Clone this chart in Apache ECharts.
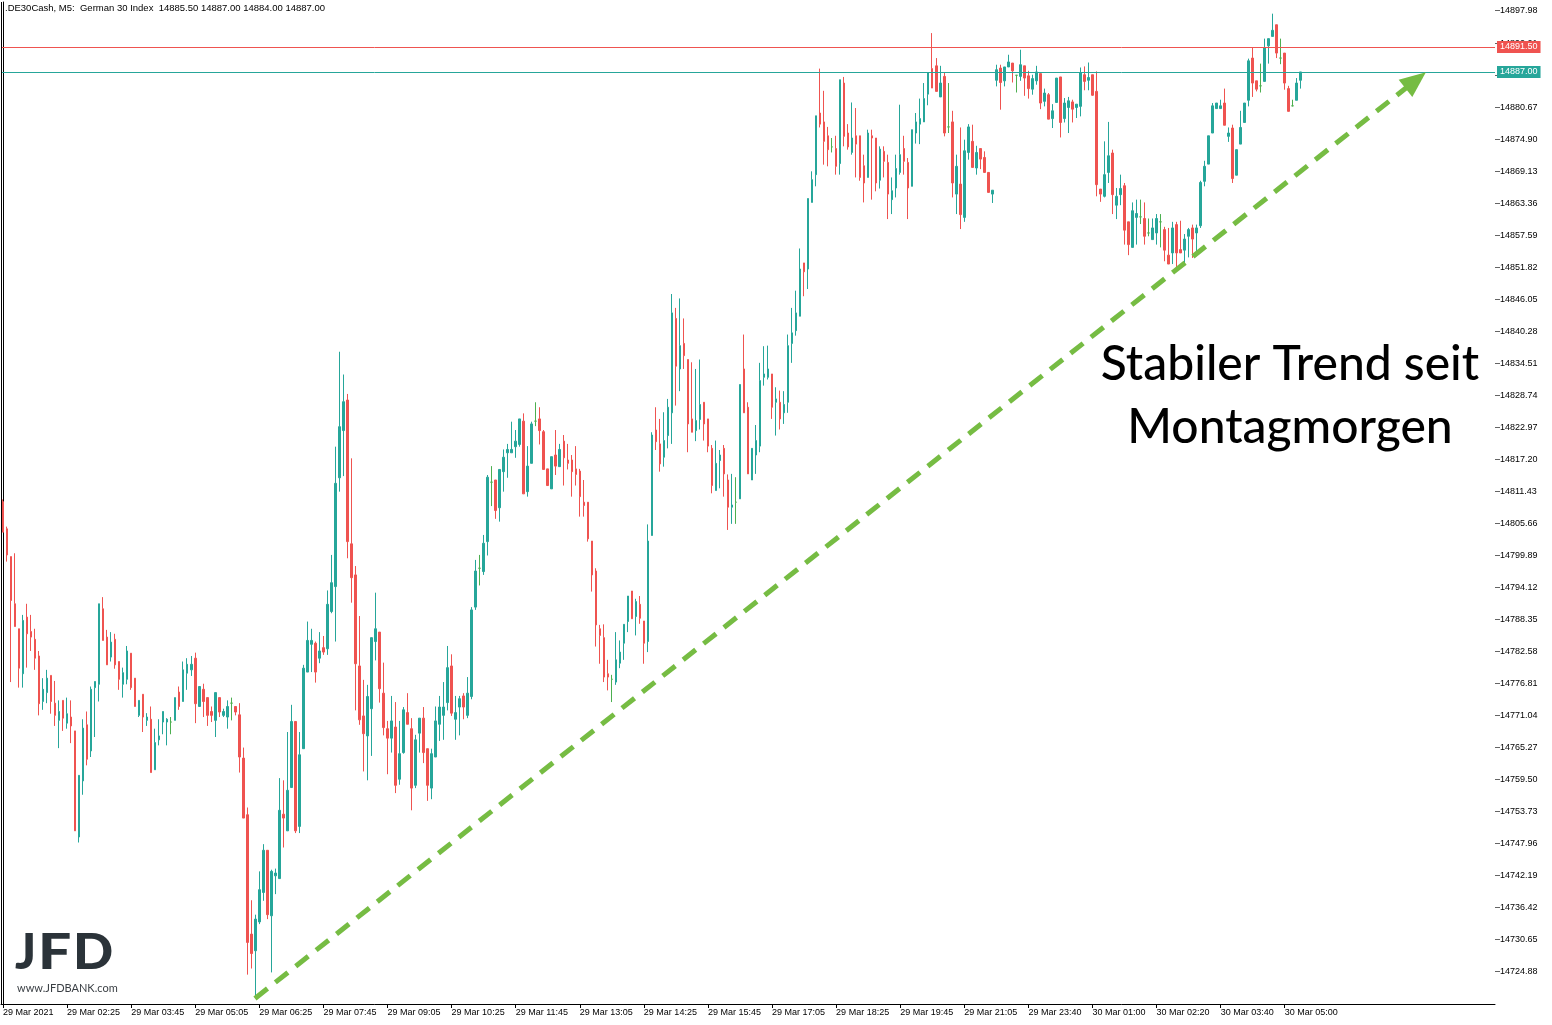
<!DOCTYPE html>
<html><head><meta charset="utf-8">
<script src="https://cdn.jsdelivr.net/npm/echarts@6/dist/echarts.min.js"></script>
<style>html,body{margin:0;padding:0;background:#fff}#c{width:1552px;height:1025px}</style>
</head><body><div id="c"></div><script>
const open = [
14809.6,14804.7,14799.7,14791.2,14786.7,14778.6,14788.8,14786.2,14784.8,14781.8,
14773.6,14775.2,14778.3,14773.3,14770.2,14773.8,14769.7,14770.8,14768.3,14749.2,
14759.3,14769.4,14764.7,14776.1,14776.7,14790.3,14785.2,14781.6,14784.8,14780.8,
14776.7,14777.6,14782.3,14777.8,14771.1,14774.9,14770.2,14770.4,14761.3,14766.7,
14769.9,14769.9,14769.9,14770.2,14775.3,14773.6,14778.7,14779.3,14781.4,14772.7,
14775.8,14774.3,14771.8,14770.2,14774.3,14771.1,14770.8,14773.3,14772.7,14771.2,
14763.4,14753.2,14731.7,14728.7,14733.9,14739.2,14746.8,14735.0,14742.2,14741.7,
14753.3,14750.3,14758.1,14770.0,14751.1,14765.1,14778.9,14783.9,14784.1,14781.4,
14783.3,14783.1,14789.8,14794.3,14813.9,14822.4,14827.9,14802.0,14796.4,14780.0,
14771.0,14767.4,14772.3,14784.4,14786.1,14775.1,14768.7,14767.0,14769.0,14759.6,
14764.4,14771.6,14768.7,14758.5,14767.9,14770.6,14765.1,14758.0,14763.6,14769.5,
14771.1,14773.4,14780.0,14770.4,14772.6,14774.6,14771.1,14774.5,14790.6,14797.6,
14797.0,14802.4,14813.1,14813.5,14808.5,14815.0,14818.4,14818.4,14819.5,14819.9,
14824.1,14811.4,14816.5,14824.1,14824.5,14822.2,14815.5,14811.9,14818.0,14815.9,
14820.5,14817.1,14817.1,14815.5,14815.1,14809.5,14809.5,14802.5,14797.1,14786.7,
14785.1,14778.6,14777.6,14777.1,14780.5,14784.1,14788.0,14793.5,14788.9,14791.1,
14788.1,14784.4,14803.5,14822.5,14820.0,14817.6,14821.5,14825.6,14842.6,14833.5,
14838.1,14835.2,14824.5,14822.4,14824.4,14827.5,14824.5,14819.2,14811.6,14817.0,
14819.2,14813.5,14808.6,14809.5,14810.1,14833.5,14826.6,14813.5,14818.0,14819.6,
14832.0,14832.0,14832.6,14827.5,14827.5,14825.6,14827.5,14838.1,14840.4,14843.0,
14852.6,14851.5,14863.5,14868.5,14879.6,14878.0,14875.5,14873.5,14873.2,14870.5,
14885.0,14876.0,14872.5,14875.5,14875.5,14870.1,14868.0,14875.5,14875.1,14867.5,
14872.7,14870.7,14864.0,14866.1,14868.9,14873.2,14870.7,14866.4,14876.0,14877.6,
14878.0,14883.0,14887.6,14888.1,14882.5,14886.2,14877.1,14878.0,14865.0,14866.8,
14860.8,14872.5,14874.5,14869.7,14873.2,14871.6,14868.9,14865.0,14885.5,14887.7,
14885.4,14887.9,14888.6,14886.4,14886.2,14888.1,14886.3,14883.9,14885.4,14886.7,
14881.7,14882.9,14878.6,14881.5,14886.1,14878.6,14880.6,14881.6,14880.6,14880.8,
14886.5,14885.5,14886.5,14883.5,14865.9,14864.6,14868.9,14872.4,14863.0,14864.9,
14866.5,14860.0,14855.4,14860.8,14860.9,14860.6,14858.0,14856.8,14858.0,14860.0,
14858.6,14854.0,14854.4,14859.5,14855.0,14854.9,14857.4,14858.9,14858.0,14859.3,
14867.3,14870.4,14876.0,14880.4,14880.4,14881.4,14875.4,14876.9,14868.4,14874.0,
14877.9,14881.9,14889.5,14885.4,14884.5,14885.3,14891.7,14893.4,14895.5,14889.5,
14890.4,14884.0,14880.9,14881.9,14885.5];
const high = [
14810.0,14805.1,14799.7,14800.3,14786.7,14789.2,14791.2,14789.2,14786.7,14782.7,
14777.8,14779.3,14778.3,14777.3,14773.8,14773.8,14774.3,14773.8,14768.3,14760.3,
14770.4,14771.8,14776.3,14777.2,14791.2,14792.4,14786.5,14786.1,14785.8,14780.8,
14779.7,14783.6,14782.3,14777.8,14773.8,14774.9,14771.5,14772.7,14768.7,14770.4,
14771.8,14770.6,14770.8,14774.3,14776.3,14780.8,14781.4,14781.8,14782.4,14776.3,
14776.8,14774.3,14772.7,14775.2,14774.3,14772.3,14773.8,14774.3,14772.7,14773.3,
14765.3,14754.5,14737.8,14735.2,14743.0,14747.9,14746.8,14743.3,14743.5,14759.8,
14759.4,14768.1,14773.0,14770.0,14768.1,14780.2,14788.0,14786.7,14784.4,14786.1,
14785.4,14793.6,14800.0,14819.5,14836.6,14832.5,14829.0,14817.4,14798.0,14789.0,
14777.5,14776.6,14785.1,14793.2,14786.1,14780.6,14770.1,14774.6,14773.5,14770.1,
14772.6,14775.1,14770.6,14767.6,14770.6,14772.6,14765.1,14765.1,14772.7,14774.6,
14777.1,14783.6,14782.1,14774.6,14774.6,14775.1,14778.0,14790.6,14799.1,14800.0,
14803.6,14814.4,14816.0,14813.5,14815.4,14819.0,14820.0,14824.0,14822.5,14824.5,
14825.5,14819.6,14824.0,14827.5,14826.6,14822.5,14815.5,14817.7,14822.5,14820.0,
14821.6,14820.0,14818.0,14819.6,14815.5,14813.5,14809.5,14802.5,14797.6,14787.4,
14787.5,14781.1,14778.4,14786.1,14784.6,14787.5,14792.6,14793.5,14792.1,14792.6,
14788.1,14805.5,14822.1,14826.6,14824.5,14825.7,14828.1,14847.0,14844.5,14846.2,
14842.6,14835.2,14834.7,14833.5,14835.2,14827.5,14824.5,14819.8,14820.6,14818.9,
14819.8,14814.5,14814.6,14814.0,14830.7,14839.7,14827.5,14819.2,14823.4,14834.6,
14837.6,14837.7,14832.6,14830.2,14829.6,14829.5,14839.7,14844.5,14847.6,14855.2,
14852.6,14864.2,14869.1,14879.1,14887.6,14883.6,14877.1,14875.1,14875.5,14885.6,
14886.1,14877.6,14881.5,14880.5,14875.5,14872.1,14876.6,14876.6,14875.1,14873.6,
14873.6,14872.1,14868.0,14872.1,14881.1,14875.5,14871.5,14876.6,14879.6,14882.2,
14885.0,14886.9,14894.0,14889.5,14888.1,14886.9,14885.0,14880.0,14872.1,14877.0,
14874.8,14877.6,14877.5,14873.7,14873.2,14872.7,14868.9,14865.7,14888.3,14888.3,
14887.9,14890.1,14888.6,14886.4,14891.0,14888.1,14887.2,14886.5,14888.1,14886.7,
14884.0,14883.2,14881.2,14885.9,14886.1,14882.3,14882.5,14882.0,14881.2,14887.8,
14888.0,14888.7,14886.5,14887.1,14865.9,14874.5,14878.0,14873.0,14866.1,14868.5,
14867.0,14860.0,14863.5,14864.0,14864.0,14863.5,14860.6,14860.6,14861.4,14861.4,
14859.1,14858.9,14860.0,14860.0,14860.2,14857.8,14858.9,14859.5,14859.5,14867.4,
14871.0,14875.5,14881.4,14881.4,14882.0,14884.0,14877.0,14877.5,14873.0,14880.0,
14881.4,14889.4,14891.4,14885.4,14888.5,14893.0,14893.0,14897.5,14895.5,14893.0,
14890.4,14884.5,14882.0,14885.9,14887.0];
const low = [
14804.1,14798.8,14777.1,14787.1,14776.1,14776.1,14779.7,14782.7,14779.3,14771.1,
14772.1,14773.3,14771.4,14769.2,14765.2,14768.3,14768.7,14766.1,14750.3,14748.2,
14756.8,14762.1,14763.6,14767.2,14773.6,14784.6,14780.2,14780.8,14779.5,14775.7,
14774.3,14776.7,14775.7,14772.7,14770.8,14768.1,14769.2,14760.8,14761.3,14765.7,
14767.7,14765.7,14767.7,14770.2,14772.1,14773.6,14775.7,14778.2,14769.7,14772.7,
14770.8,14769.2,14769.9,14767.2,14770.8,14770.8,14768.7,14770.2,14771.1,14760.8,
14752.6,14724.4,14725.5,14720.2,14733.5,14737.7,14734.4,14724.8,14738.9,14741.7,
14747.3,14750.3,14758.1,14749.9,14749.9,14765.1,14778.9,14778.9,14777.0,14780.5,
14782.0,14782.0,14789.5,14784.4,14811.4,14814.2,14799.4,14791.4,14772.0,14769.4,
14761.0,14759.4,14763.8,14781.0,14773.4,14767.5,14760.5,14764.4,14757.1,14758.6,
14764.2,14769.5,14754.0,14758.0,14764.4,14762.5,14755.7,14756.0,14763.6,14766.5,
14766.7,14772.0,14771.0,14766.7,14767.5,14770.4,14770.6,14774.0,14790.1,14794.5,
14796.4,14799.9,14808.8,14806.5,14806.0,14811.4,14813.9,14818.4,14817.5,14819.5,
14811.0,14810.5,14816.5,14823.2,14819.9,14815.4,14812.5,14811.9,14814.4,14815.9,
14812.5,14815.4,14810.5,14812.5,14806.9,14806.9,14802.4,14793.4,14783.5,14780.4,
14777.1,14775.6,14773.5,14776.6,14779.6,14781.1,14786.1,14788.5,14785.5,14787.6,
14780.4,14782.5,14803.5,14818.9,14815.0,14815.9,14819.2,14820.0,14826.9,14829.5,
14833.5,14818.5,14822.1,14820.5,14822.6,14820.6,14818.5,14811.1,14811.6,14812.0,
14810.5,14804.5,14805.6,14805.6,14810.1,14825.6,14814.6,14813.5,14814.6,14818.5,
14830.5,14831.6,14824.5,14821.5,14822.6,14823.6,14825.6,14834.6,14839.5,14843.0,
14846.6,14847.9,14863.5,14866.4,14877.0,14870.3,14870.0,14872.5,14868.5,14868.5,
14873.6,14873.0,14872.1,14868.0,14867.4,14863.5,14868.0,14864.0,14865.5,14866.0,
14868.0,14860.5,14861.4,14864.4,14868.5,14868.5,14860.5,14866.4,14874.1,14874.0,
14878.0,14881.0,14884.1,14883.5,14882.5,14875.4,14876.0,14864.4,14861.4,14858.7,
14860.0,14871.2,14869.8,14868.5,14869.5,14868.8,14865.3,14863.4,14884.4,14880.2,
14884.4,14887.9,14885.1,14883.3,14885.4,14882.7,14882.2,14882.9,14884.7,14880.3,
14880.8,14878.5,14876.9,14881.5,14875.2,14877.9,14876.0,14877.9,14878.7,14879.0,
14883.7,14883.7,14882.7,14864.6,14863.6,14864.4,14867.0,14861.4,14860.5,14863.0,
14855.9,14854.0,14855.4,14855.9,14859.6,14855.9,14857.4,14856.8,14855.9,14855.4,
14852.9,14852.4,14852.4,14851.2,14854.4,14852.3,14853.6,14853.5,14853.8,14858.9,
14866.4,14870.4,14876.0,14880.4,14880.4,14877.4,14874.4,14867.0,14868.4,14874.0,
14877.9,14880.8,14882.5,14883.5,14883.3,14885.3,14888.5,14893.4,14889.5,14888.4,
14883.8,14879.9,14880.8,14881.9,14884.0];
const close = [
14804.1,14800.0,14791.8,14787.1,14779.6,14788.2,14785.8,14785.2,14781.4,14773.2,
14775.8,14777.8,14773.6,14771.1,14771.8,14770.6,14771.4,14769.2,14750.3,14760.3,
14768.8,14763.2,14775.8,14777.2,14791.2,14784.6,14780.2,14784.3,14780.2,14777.6,
14778.8,14782.7,14776.1,14772.7,14773.8,14770.8,14770.8,14760.8,14766.2,14767.4,
14771.8,14770.4,14769.9,14774.3,14772.7,14779.3,14780.3,14780.3,14773.2,14776.3,
14773.6,14771.1,14771.1,14775.2,14771.7,14771.8,14772.7,14773.3,14771.7,14763.6,
14752.6,14730.2,14728.2,14734.4,14739.7,14746.8,14735.2,14743.0,14742.7,14754.0,
14752.6,14757.6,14770.0,14750.3,14764.0,14779.6,14784.6,14784.6,14778.9,14782.7,
14782.5,14791.1,14795.0,14812.9,14823.1,14827.6,14802.4,14795.9,14780.4,14770.3,
14767.8,14774.5,14785.1,14786.7,14775.9,14768.9,14767.0,14770.1,14758.5,14764.2,
14772.1,14769.5,14758.0,14766.7,14770.6,14764.4,14758.5,14764.2,14770.1,14772.6,
14772.6,14779.7,14771.5,14771.6,14774.1,14772.6,14775.1,14790.1,14797.1,14797.6,
14802.1,14814.0,14813.1,14808.0,14815.4,14817.6,14819.0,14819.0,14820.5,14824.5,
14811.0,14816.0,14823.6,14824.1,14822.4,14815.4,14812.5,14817.7,14816.0,14819.0,
14817.5,14816.5,14815.0,14814.5,14810.5,14808.9,14802.9,14796.4,14787.4,14785.5,
14778.0,14778.0,14777.6,14781.1,14782.5,14787.5,14792.6,14788.5,14791.6,14788.6,
14784.1,14802.5,14821.6,14820.4,14816.4,14820.6,14826.6,14843.6,14834.0,14837.7,
14835.9,14823.6,14822.1,14824.2,14827.1,14823.6,14819.6,14812.5,14816.5,14818.0,
14814.6,14808.6,14809.0,14809.5,14830.7,14825.6,14814.6,14819.2,14820.6,14831.4,
14832.6,14833.5,14826.6,14828.1,14824.5,14827.1,14837.7,14840.0,14843.6,14851.5,
14851.0,14864.2,14867.6,14879.1,14877.6,14874.5,14873.0,14873.5,14870.0,14885.6,
14875.4,14873.5,14875.1,14874.0,14868.0,14867.0,14876.0,14875.1,14867.0,14873.1,
14870.9,14865.0,14865.6,14869.6,14872.1,14870.9,14866.1,14876.6,14878.0,14878.6,
14882.2,14886.9,14884.1,14883.5,14885.0,14876.0,14877.1,14867.0,14870.0,14861.3,
14872.8,14877.1,14869.8,14872.5,14871.3,14868.9,14865.3,14865.7,14887.4,14885.1,
14887.9,14888.8,14887.2,14886.4,14888.3,14885.9,14884.0,14885.8,14887.0,14881.4,
14883.2,14878.5,14880.0,14885.9,14877.9,14881.4,14881.8,14880.3,14881.2,14886.9,
14885.3,14886.0,14882.8,14866.7,14865.0,14868.5,14871.9,14864.9,14864.6,14866.0,
14858.5,14855.9,14862.0,14861.5,14860.9,14857.4,14858.0,14858.9,14860.6,14860.0,
14854.9,14852.4,14858.9,14854.4,14854.4,14856.9,14858.6,14856.9,14858.9,14867.1,
14870.0,14875.5,14880.9,14881.4,14880.9,14877.4,14876.0,14867.8,14873.0,14877.0,
14881.4,14889.0,14885.0,14883.9,14884.5,14891.4,14893.0,14894.5,14890.4,14889.5,
14885.0,14879.9,14880.9,14885.0,14887.0];

const xTickLabels = ['29 Mar 2021','29 Mar 02:25','29 Mar 03:45','29 Mar 05:05','29 Mar 06:25',
  '29 Mar 07:45','29 Mar 09:05','29 Mar 10:25','29 Mar 11:45','29 Mar 13:05','29 Mar 14:25',
  '29 Mar 15:45','29 Mar 17:05','29 Mar 18:25','29 Mar 19:45','29 Mar 21:05','29 Mar 23:40',
  '30 Mar 01:00','30 Mar 02:20','30 Mar 03:40','30 Mar 05:00'];
const yTickValues = [14897.98,14892.21,14886.44,14880.67,14874.90,14869.13,14863.36,14857.59,
  14851.82,14846.05,14840.28,14834.51,14828.74,14822.97,14817.20,14811.43,14805.66,14799.89,
  14794.12,14788.35,14782.58,14776.81,14771.04,14765.27,14759.50,14753.73,14747.96,14742.19,
  14736.42,14730.65,14724.88];
const askPrice = 14891.50;
const bidPrice = 14887.00;
const trendStart = [62.9, 14720.1];
const trendEnd = [352.7, 14885.5];
const headerText = '.DE30Cash, M5:  German 30 Index';
const noteLines = ['Stabiler Trend seit', 'Montagmorgen'];

const SLOTS = 373, TICK_STEP = 16, LAST_TICK = 320;
const Y_MIN = 14719.11, Y_MAX = 14899.60;
const FONT = 'Liberation Sans';
const UP = '#26a69a', DOWN = '#ef5350';

const categories = Array.from({length: SLOTS}, (_, i) => String(i));
const candleData = open.map((o, i) => [o, close[i], low[i], high[i]]);
const last = open.length - 1;
const tickShown = (i) => i % TICK_STEP === 0 && i <= LAST_TICK;

const chart = echarts.init(document.getElementById('c'), null, {renderer: 'canvas'});
chart.setOption({
  animation: false,
  backgroundColor: '#fff',
  grid: {left: 1, top: 2, width: 1494, height: 1002, show: false},
  xAxis: [{
    type: 'category', data: categories, boundaryGap: true,
    axisLine: {show: true, lineStyle: {color: '#000', width: 1}},
    axisTick: {show: true, alignWithLabel: true, interval: tickShown, length: 4, lineStyle: {color: '#000'}},
    axisLabel: {show: true, interval: tickShown, formatter: (v, i) => xTickLabels[i / TICK_STEP] || '',
      align: 'left', margin: 4, fontFamily: FONT, fontSize: 9, color: '#000'},
    splitLine: {show: false}
  }, {
    type: 'value', min: -0.5, max: SLOTS - 0.5, show: false
  }],
  yAxis: [{
    type: 'value', position: 'right', min: Y_MIN, max: Y_MAX, scale: true,
    axisLine: {show: true, lineStyle: {color: '#000', width: 1}},
    axisTick: {show: false},
    axisLabel: {show: true, customValues: yTickValues, formatter: v => '\u2012' + v.toFixed(2), margin: 0,
      fontFamily: FONT, fontSize: 9, color: '#000'},
    splitLine: {show: false}
  }],
  series: [{
    type: 'candlestick', data: candleData, barWidth: 2,
    itemStyle: {color: UP, color0: DOWN, borderColor: UP, borderColor0: DOWN, borderColorDoji: '#4caf50', borderWidth: 1},
    markLine: {
      silent: true, symbol: 'none', animation: false,
      data: [
        {yAxis: askPrice, lineStyle: {color: DOWN, width: 1, type: 'solid'},
         label: {show: true, position: 'end', distance: 2, formatter: p => Number(p.value).toFixed(2),
           backgroundColor: DOWN, color: '#fff', padding: [2, 3, 1, 3], fontFamily: FONT, fontSize: 9}},
        {yAxis: bidPrice, lineStyle: {color: UP, width: 1, type: 'solid'},
         label: {show: true, position: 'end', distance: 2, formatter: p => Number(p.value).toFixed(2),
           backgroundColor: UP, color: '#fff', padding: [2, 3, 1, 3], fontFamily: FONT, fontSize: 9}}
      ]
    }
  }, {
    type: 'line', xAxisIndex: 1, yAxisIndex: 0, data: [], showSymbol: false,
    markLine: {
      silent: true, animation: false, symbol: 'none', symbolSize: 26,
      label: {show: false},
      data: [
        [{coord: trendStart, symbol: 'none', lineStyle: {color: '#76bc43', width: 5, type: [16, 10]}},
         {coord: trendEnd, symbol: 'triangle', symbolSize: [22, 26]}],
        {xAxis: -0.5, lineStyle: {color: '#000', width: 1, type: 'solid'}}
      ]
    }
  }],
  graphic: [
    {type: 'text', left: 5, top: 3, style: {
      text: headerText + '  ' + [open[last], high[last], low[last], close[last]].map(v => v.toFixed(2)).join(' '),
      fontFamily: FONT, fontSize: 9.5, fill: '#000'}},
    {type: 'text', x: 1290, y: 365, style: {text: noteLines[0], fontFamily: 'Lato', fontWeight: 500, fontSize: 48, fill: '#000', align: 'center', verticalAlign: 'middle'}},
    {type: 'text', x: 1290, y: 428, style: {text: noteLines[1], fontFamily: 'Lato', fontWeight: 500, fontSize: 48, fill: '#000', align: 'center', verticalAlign: 'middle'}},
    {type: 'text', x: 15, y: 953, style: {text: 'J', fontFamily: 'Lato', fontWeight: 900, fontSize: 49, fill: '#2b3339', verticalAlign: 'middle'}},
    {type: 'text', x: 38, y: 953, scaleX: 1.2, style: {text: 'F', fontFamily: 'Lato', fontWeight: 900, fontSize: 49, fill: '#2b3339', verticalAlign: 'middle'}},
    {type: 'text', x: 73, y: 953, scaleX: 1.08, style: {text: 'D', fontFamily: 'Lato', fontWeight: 900, fontSize: 49, fill: '#2b3339', verticalAlign: 'middle'}},
    {type: 'text', x: 17, y: 988, style: {text: 'www.JFDBANK.com', fontFamily: 'Lato', fontSize: 11, fill: '#3a3f44', verticalAlign: 'middle'}}
  ]
});
</script></body></html>
